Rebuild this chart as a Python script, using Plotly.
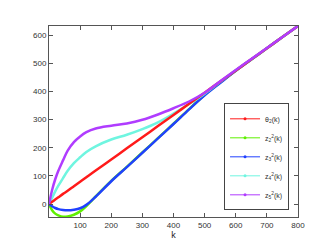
import plotly.graph_objects as go

k = [0, 10, 20, 30, 45, 60, 80, 100, 120, 150, 200, 250, 300, 350, 400, 450, 500, 550, 600, 650, 700, 750, 800]
theta2 = [0, 8, 16, 24, 36, 47, 63, 79, 95, 119, 158, 198, 237, 277, 316, 356, 395, 435, 474, 514, 553, 593, 632]
z2 = [0, -22, -34, -40, -45, -44, -38, -26, -7, 27, 82, 132, 183, 234, 285, 337, 387, 431, 473, 513, 553, 593, 632]
z3 = [0, -8, -14, -18, -21, -22, -20, -15, -3, 26, 81, 131, 182, 233, 284, 336, 386, 430, 473, 513, 553, 593, 632]
z4 = [0, 22, 45, 65, 92, 118, 145, 166, 185, 205, 229, 246, 266, 290, 321, 355, 392, 434, 475, 514, 553, 593, 632]
z5 = [0, 50, 88, 118, 155, 190, 220, 240, 255, 268, 278, 286, 299, 318, 340, 364, 395, 436, 476, 515, 554, 593, 632]

names = ["θ<sub>2</sub>(k)", "z<sub>2</sub><sup>2</sup>(k)", "z<sub>3</sub><sup>2</sup>(k)",
         "z<sub>4</sub><sup>2</sup>(k)", "z<sub>5</sub><sup>2</sup>(k)"]
colors = ["#ff1a1a", "#5ef000", "#2040ff", "#6ff5e0", "#b03cff"]
series = [theta2, z2, z3, z4, z5]

fig = go.Figure()
for i in [1, 2, 3, 0, 4]:
    fig.add_trace(go.Scatter(x=k, y=series[i], mode="lines", line=dict(color=colors[i], width=2.5, shape="spline"),
                             showlegend=False, hoverinfo="skip"))
for i in range(5):
    fig.add_trace(go.Scatter(x=[None], y=[None], mode="lines+markers", name=names[i],
                             line=dict(color=colors[i], width=1), marker=dict(color=colors[i], size=3)))

axis_common = dict(showline=True, linecolor="#555555", linewidth=1, mirror="ticks", ticks="inside",
                   ticklen=4, tickcolor="#555555", showgrid=False, zeroline=False,
                   tickfont=dict(family="Liberation Sans, Arial", size=8, color="#333333"))
fig.update_xaxes(range=[0, 800], tickvals=[100, 200, 300, 400, 500, 600, 700, 800],
                 title=dict(text="k", font=dict(family="Liberation Sans, Arial", size=9, color="#222222"), standoff=2),
                 **axis_common)
fig.update_yaxes(range=[-46, 632], tickvals=[0, 100, 200, 300, 400, 500, 600], **axis_common)

fig.update_layout(
    width=321, height=242,
    margin=dict(l=41, r=31, t=18, b=28),
    paper_bgcolor="white", plot_bgcolor="white",
    legend=dict(x=0.964, y=0.035, xanchor="right", yanchor="bottom",
                bordercolor="#444444", borderwidth=1, bgcolor="white",
                font=dict(family="Liberation Sans, Arial", size=7, color="#333333"),
                itemwidth=30, tracegroupgap=0),
)

fig.write_html("out.html")
